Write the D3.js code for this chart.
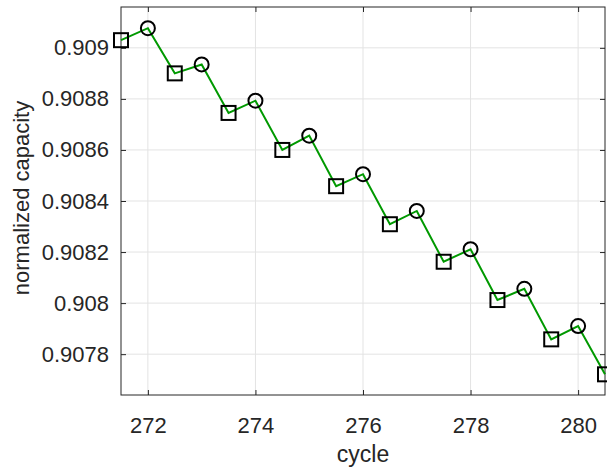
<!DOCTYPE html>
<html>
<head>
<meta charset="utf-8">
<script src="https://cdn.jsdelivr.net/npm/d3@7"></script>
<style>
  body { margin: 0; background: #fff; }
  svg text { font-family: "Liberation Sans", Arial, sans-serif; fill: #262626; }
</style>
</head>
<body>
<svg width="607" height="468"></svg>
<script>
// square markers sit on the half cycles, circles on the whole cycles
const squareCycles = [271.5, 272.5, 273.5, 274.5, 275.5, 276.5, 277.5, 278.5, 279.5, 280.5];
const squareValues = [0.90903, 0.90890, 0.908745, 0.90860, 0.908458, 0.908309, 0.908162, 0.908012, 0.907858, 0.907721];
const circleCycles = [272, 273, 274, 275, 276, 277, 278, 279, 280];
const circleValues = [0.909077, 0.908935, 0.908793, 0.908656, 0.908505, 0.908361, 0.908211, 0.908056, 0.90791];
const xTicks = [272, 274, 276, 278, 280];
const yTicks = [0.9078, 0.908, 0.9082, 0.9084, 0.9086, 0.9088, 0.909];

const svg = d3.select("svg");
const plotLeft = 121, plotRight = 605, plotTop = 7, plotBottom = 395;

const x = d3.scaleLinear().domain([271.5, 280.5]).range([plotLeft, plotRight]);
const y = d3.scaleLinear().domain([0.90764, 0.90916]).range([plotBottom, plotTop]);

// grid
svg.append("g").selectAll("line").data(xTicks).join("line")
    .attr("x1", d => x(d)).attr("x2", d => x(d))
    .attr("y1", plotTop).attr("y2", plotBottom)
    .attr("stroke", "#e3e3e3").attr("stroke-width", 1);
svg.append("g").selectAll("line").data(yTicks).join("line")
    .attr("x1", plotLeft).attr("x2", plotRight)
    .attr("y1", d => y(d)).attr("y2", d => y(d))
    .attr("stroke", "#e3e3e3").attr("stroke-width", 1);

// axes with inward ticks
const fmt = d => String(+d.toFixed(4));
svg.append("g")
    .attr("transform", `translate(0,${plotBottom})`)
    .call(d3.axisBottom(x).tickValues(xTicks).tickSize(-5).tickPadding(22).tickFormat(d => d))
    .call(g => g.select(".domain").remove());
svg.append("g")
    .attr("transform", `translate(0,${plotTop})`)
    .call(d3.axisTop(x).tickValues(xTicks).tickSize(-5).tickFormat(""))
    .call(g => g.select(".domain").remove());
svg.append("g")
    .attr("transform", `translate(${plotLeft},0)`)
    .call(d3.axisLeft(y).tickValues(yTicks).tickSize(-5).tickPadding(12).tickFormat(fmt))
    .call(g => g.select(".domain").remove());
svg.append("g")
    .attr("transform", `translate(${plotRight},0)`)
    .call(d3.axisRight(y).tickValues(yTicks).tickSize(-5).tickFormat(""))
    .call(g => g.select(".domain").remove());

svg.selectAll(".tick line").attr("stroke", "#262626");
svg.selectAll(".tick text").attr("font-size", 22).attr("fill", "#262626");

svg.append("rect")
    .attr("x", plotLeft).attr("y", plotTop)
    .attr("width", plotRight - plotLeft).attr("height", plotBottom - plotTop)
    .attr("fill", "none").attr("stroke", "#262626").attr("stroke-width", 1);

// combined line through all points
const points = squareCycles.map((c, i) => [c, squareValues[i]])
    .concat(circleCycles.map((c, i) => [c, circleValues[i]]))
    .sort((a, b) => a[0] - b[0]);

svg.append("path")
    .datum(points)
    .attr("fill", "none")
    .attr("stroke", "#009900")
    .attr("stroke-width", 2)
    .attr("d", d3.line().x(d => x(d[0])).y(d => y(d[1])));

const sq = 14;
svg.append("g").selectAll("rect").data(squareCycles).join("rect")
    .attr("x", (d, i) => x(d) - sq / 2)
    .attr("y", (d, i) => y(squareValues[i]) - sq / 2)
    .attr("width", sq).attr("height", sq)
    .attr("fill", "none").attr("stroke", "#000").attr("stroke-width", 2);

svg.append("g").selectAll("circle").data(circleCycles).join("circle")
    .attr("cx", d => x(d))
    .attr("cy", (d, i) => y(circleValues[i]))
    .attr("r", 7)
    .attr("fill", "none").attr("stroke", "#000").attr("stroke-width", 2);

// labels
svg.append("text")
    .attr("x", (plotLeft + plotRight) / 2).attr("y", 462)
    .attr("text-anchor", "middle").attr("font-size", 23)
    .text("cycle");
svg.append("text")
    .attr("transform", `translate(29,198) rotate(-90)`)
    .attr("text-anchor", "middle").attr("font-size", 22)
    .text("normalized capacity");
</script>
</body>
</html>
